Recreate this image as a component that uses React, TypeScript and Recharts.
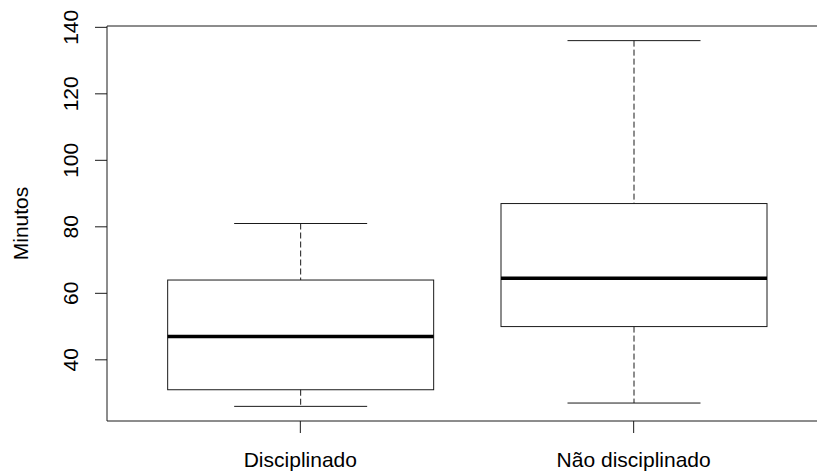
import { Bar, ComposedChart, ReferenceLine, XAxis, YAxis } from 'recharts'

// five-number summaries per group (minutes)
const groups = ['Disciplinado', 'Não disciplinado']
const lowerWhisker = [26, 27]
const lowerQuartile = [31, 50]
const medians = [47, 64.5]
const upperQuartile = [64, 87]
const upperWhisker = [81, 136]
const yTicks = [40, 60, 80, 100, 120, 140]

const data = groups.map((name, i) => ({
  pos: i + 1,
  name,
  min: lowerWhisker[i],
  q1: lowerQuartile[i],
  median: medians[i],
  q3: upperQuartile[i],
  max: upperWhisker[i],
  range: [lowerWhisker[i], upperWhisker[i]],
}))

// base-R style axis padding: 4% on each side
const lo = Math.min(...lowerWhisker)
const hi = Math.max(...upperWhisker)
const pad = (hi - lo) * 0.04
const yDomain = [lo - pad, hi + pad]
const xDomain = [0.5 - 0.08, groups.length + 0.5 + 0.08]

const FONT = '"Liberation Sans", Arial, Helvetica, sans-serif'
const FONT_SIZE = 21
const INK = '#1a1a1a'

function BoxShape(props: any) {
  const { x, y, width, height, payload } = props
  const { min, q1, median, q3, max } = payload
  const ppu = height / (max - min)
  const yOf = (v: number) => y + (max - v) * ppu
  const cx = x + width / 2
  const cap = width / 4
  return (
    <g>
      <line x1={cx} x2={cx} y1={yOf(max)} y2={yOf(q3)} stroke={INK} strokeDasharray="6 3" />
      <line x1={cx} x2={cx} y1={yOf(q1)} y2={yOf(min)} stroke={INK} strokeDasharray="6 3" />
      <line x1={cx - cap} x2={cx + cap} y1={yOf(max)} y2={yOf(max)} stroke={INK} />
      <line x1={cx - cap} x2={cx + cap} y1={yOf(min)} y2={yOf(min)} stroke={INK} />
      <rect x={x} y={yOf(q3)} width={width} height={yOf(q1) - yOf(q3)} fill="none" stroke={INK} />
      <line x1={x} x2={x + width} y1={yOf(median)} y2={yOf(median)} stroke="#000" strokeWidth={3.5} />
    </g>
  )
}

function YTick({ x, y, payload }: any) {
  return (
    <text
      x={x - 17}
      y={y}
      transform={`rotate(-90, ${x - 17}, ${y})`}
      textAnchor="middle"
      fontSize={FONT_SIZE}
      fontFamily={FONT}
      fill="#000"
    >
      {payload.value}
    </text>
  )
}

export default function App() {
  return (
    <div
      style={{
        position: 'absolute',
        left: 0,
        top: 0,
        width: 817,
        height: 473,
        overflow: 'hidden',
        background: '#fff',
      }}
    >
      <ComposedChart
        width={840}
        height={473}
        data={data}
        margin={{ top: 26, right: 13, bottom: 0, left: 0 }}
      >
        <XAxis
          dataKey="pos"
          type="number"
          domain={xDomain}
          ticks={[1, 2]}
          tickFormatter={(v) => groups[v - 1]}
          height={52}
          tickSize={12}
          tickMargin={19}
          stroke={INK}
          tick={{ fill: '#000', fontSize: FONT_SIZE, fontFamily: FONT }}
          allowDataOverflow
        />
        <YAxis
          type="number"
          domain={yDomain}
          ticks={yTicks}
          width={107}
          tickSize={12}
          tickMargin={0}
          stroke={INK}
          tick={<YTick />}
          allowDataOverflow
          label={{
            value: 'Minutos',
            angle: -90,
            position: 'insideLeft',
            offset: 21,
            style: { textAnchor: 'middle', fontSize: FONT_SIZE, fontFamily: FONT, fill: '#000' },
          }}
        />
        <ReferenceLine y={yDomain[1]} stroke={INK} ifOverflow="visible" />
        <Bar
          dataKey="range"
          barSize={266}
          shape={<BoxShape />}
          isAnimationActive={false}
        />
      </ComposedChart>
    </div>
  )
}
